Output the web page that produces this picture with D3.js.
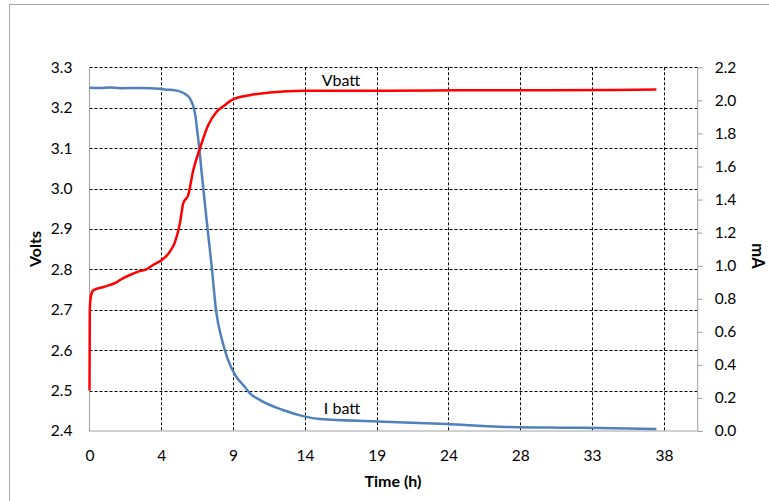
<!DOCTYPE html>
<html><head><meta charset="utf-8">
<script src="https://cdn.jsdelivr.net/npm/d3@7"></script>
<style>body{margin:0;background:#fff}svg{display:block}</style>
</head><body><svg id="c" width="769" height="501"></svg>
<script>
// Time axis (hours): tick positions and their labels
const xTickHours = [0, 4.8, 9.6, 14.4, 19.2, 24.0, 28.8, 33.6, 38.4];
const xTickLabels = ["0", "4", "9", "14", "19", "24", "28", "33", "38"];
const voltTicks = [2.4, 2.5, 2.6, 2.7, 2.8, 2.9, 3.0, 3.1, 3.2, 3.3];
const maTicks = [0.0, 0.2, 0.4, 0.6, 0.8, 1.0, 1.2, 1.4, 1.6, 1.8, 2.0, 2.2];

// Vbatt (Volts) vs time (h)
const vTime = [0, 0.02, 0.1, 0.25, 1.0, 1.8, 2.1, 2.7, 3.3, 3.8, 4.3, 4.83, 5.3, 5.72, 6.05, 6.27, 6.6, 6.94, 7.39, 7.94, 8.5, 9.0, 9.5, 10.72, 12.93, 14.4, 20, 25, 30, 35, 37.9];
const vBatt = [2.50, 2.70, 2.735, 2.748, 2.757, 2.768, 2.775, 2.786, 2.795, 2.800, 2.812, 2.823, 2.84, 2.868, 2.915, 2.964, 2.984, 3.046, 3.10, 3.157, 3.19, 3.205, 3.219, 3.231, 3.240, 3.242, 3.242, 3.243, 3.243, 3.244, 3.245];

// I batt (mA) vs time (h)
const iTime = [0, 0.7, 1.37, 2.04, 3.38, 4.71, 5.16, 5.58, 6.25, 6.72, 7.09, 7.17, 7.34, 7.5, 7.83, 8.17, 8.46, 8.86, 9.26, 9.73, 10.39, 10.73, 11.4, 12.93, 14.27, 15.4, 19.2, 23.88, 27.44, 31.45, 34.1, 37.9];
const iBatt = [2.077, 2.075, 2.078, 2.074, 2.075, 2.070, 2.064, 2.063, 2.046, 2.01, 1.90, 1.84, 1.71, 1.56, 1.276, 0.994, 0.73, 0.55, 0.43, 0.34, 0.266, 0.228, 0.187, 0.127, 0.09, 0.072, 0.058, 0.042, 0.026, 0.02, 0.018, 0.012];

const svg = d3.select("#c");
const L = 89.5, R = 697.7, T = 67.3, B = 431;
const font = "Lato, 'Open Sans', sans-serif";

svg.append("rect").attr("x", 9.5).attr("y", 4.5).attr("width", 900).attr("height", 700)
  .attr("fill", "none").attr("stroke", "#a6a6a6");

const x = d3.scaleLinear().domain([0, 40.66]).range([L, R]);
const yL = d3.scaleLinear().domain([2.4, 3.3]).range([B, T]);
const yR = d3.scaleLinear().domain([0, 2.2]).range([B, T]);

// gridlines
const g = svg.append("g");
g.selectAll("line.h").data(voltTicks.slice(1)).join("line")
  .attr("x1", L).attr("x2", R).attr("y1", d => Math.round(yL(d)) + 0.5).attr("y2", d => Math.round(yL(d)) + 0.5)
  .attr("stroke", "#000").attr("stroke-dasharray", "3,2");
g.selectAll("line.v").data(xTickHours.slice(1)).join("line")
  .attr("x1", d => Math.round(x(d)) + 0.5).attr("x2", d => Math.round(x(d)) + 0.5).attr("y1", T).attr("y2", B)
  .attr("stroke", "#000").attr("stroke-dasharray", "3,2");

// axes
const axisColor = "#a0a0a0";
const leftAxis = svg.append("g").attr("transform", `translate(${L},0)`)
  .call(d3.axisLeft(yL).tickValues(voltTicks).tickFormat(d3.format(".1f")).tickSize(0).tickPadding(17));
const rightAxis = svg.append("g").attr("transform", `translate(${R},0)`)
  .call(d3.axisRight(yR).tickValues(maTicks).tickFormat(d3.format(".1f")).tickSize(5).tickPadding(12));
const bottomAxis = svg.append("g").attr("transform", `translate(0,${B})`)
  .call(d3.axisBottom(x).tickValues(xTickHours).tickFormat((d, i) => xTickLabels[i]).tickSize(0).tickPadding(19));
[leftAxis, rightAxis, bottomAxis].forEach(a => {
  a.select(".domain").remove();
  a.selectAll("line").attr("stroke", axisColor);
  a.selectAll("text").attr("font-family", font).attr("font-size", 15.5).attr("fill", "#000");
});
svg.append("line").attr("x1", L).attr("x2", L).attr("y1", T).attr("y2", B).attr("stroke", axisColor);
svg.append("line").attr("x1", R).attr("x2", R).attr("y1", T).attr("y2", B).attr("stroke", axisColor);
svg.append("line").attr("x1", L).attr("x2", R).attr("y1", B).attr("y2", B).attr("stroke", axisColor);

// lines
const vLine = d3.line().x((d, i) => x(vTime[i])).y(d => yL(d)).curve(d3.curveMonotoneX);
const iLine = d3.line().x((d, i) => x(iTime[i])).y(d => yR(d)).curve(d3.curveMonotoneX);
svg.append("path").datum(iBatt).attr("d", iLine).attr("fill", "none").attr("stroke", "#4f81bd").attr("stroke-width", 2.5);
svg.append("path").datum(vBatt).attr("d", vLine).attr("fill", "none").attr("stroke", "#ff0000").attr("stroke-width", 2.5);

// labels
svg.append("text").attr("x", 341).attr("y", 86).attr("text-anchor", "middle").attr("font-family", font).attr("font-size", 16).text("Vbatt");
svg.append("text").attr("x", 342).attr("y", 414).attr("text-anchor", "middle").attr("font-family", font).attr("font-size", 16).text("I batt");
svg.append("text").attr("x", 393).attr("y", 487).attr("text-anchor", "middle").attr("font-family", font).attr("font-size", 16).attr("font-weight", "bold").text("Time (h)");
svg.append("text").attr("transform", "translate(41,249) rotate(-90)").attr("text-anchor", "middle").attr("font-family", font).attr("font-size", 16).attr("font-weight", "bold").text("Volts");
svg.append("text").attr("transform", "translate(752,256) rotate(90)").attr("text-anchor", "middle").attr("font-family", font).attr("font-size", 16.5).attr("font-weight", "bold").text("mA");
</script></body></html>
